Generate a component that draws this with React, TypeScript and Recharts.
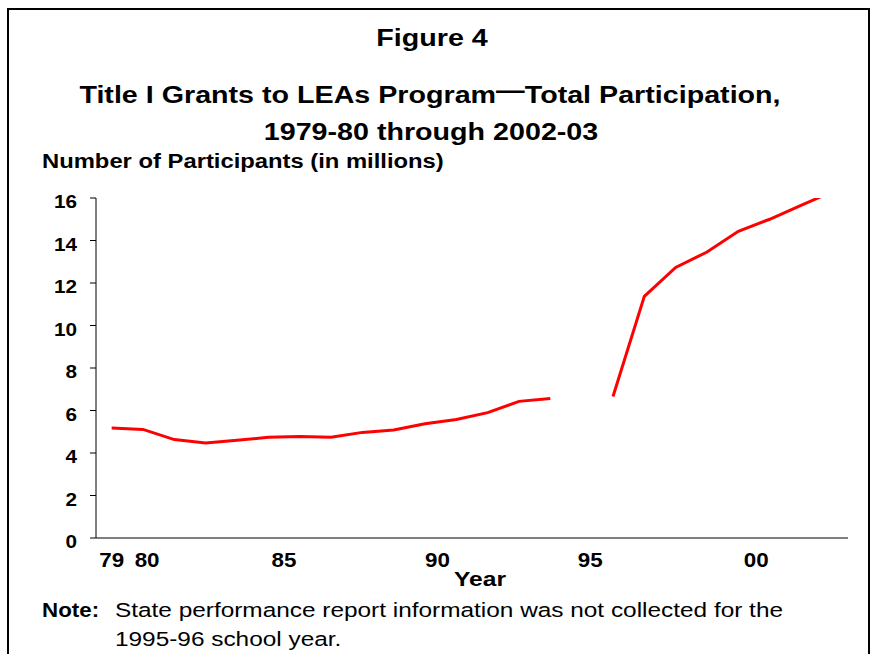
import { LineChart, Line, XAxis, YAxis } from 'recharts'

// school years on the category axis (24 slots)
const SCHOOL_YEARS = [
  '1979-80', '1980-81', '1981-82', '1982-83', '1983-84', '1984-85',
  '1985-86', '1986-87', '1987-88', '1988-89', '1989-90', '1990-91',
  '1991-92', '1992-93', '1993-94', '1994-95', '1995-96', '1996-97',
  '1997-98', '1998-99', '1999-00', '2000-01', '2001-02', '2002-03',
]

// participants in millions, null = not collected
const PARTICIPANTS = [
  5.18, 5.11, 4.63, 4.47, 4.6, 4.74, 4.78, 4.74, 4.97, 5.08, 5.38, 5.58,
  5.9, 6.43, 6.57, null, 6.66, 11.37, 12.73, 13.46, 14.43, 15.0, 15.65, 16.3,
]

// x labels sit where the original put them (in slot units)
const X_TICK_LABELS = ['79', '80', '85', '90', '95', '00']
const X_TICK_AT = [0, 1.13, 5.5, 10.4, 15.27, 20.57]

const Y_TICKS = [0, 2, 4, 6, 8, 10, 12, 14, 16]

const FONT = '"Liberation Sans", Arial, sans-serif'

const data = SCHOOL_YEARS.map((year, i) => ({
  slot: i,
  year,
  value: PARTICIPANTS[i],
}))

function XTick({ x, y, payload }: any) {
  const i = X_TICK_AT.indexOf(payload.value)
  return (
    <text
      transform={`translate(${x},${y + 29}) scale(1.12,1)`}
      textAnchor="middle"
      fontFamily={FONT}
      fontWeight="bold"
      fontSize={20}
      fill="#000"
    >
      {X_TICK_LABELS[i]}
    </text>
  )
}

function YTick({ x, y, payload }: any) {
  return (
    <text
      transform={`translate(${x},${y + 10}) scale(1.12,1)`}
      textAnchor="end"
      fontFamily={FONT}
      fontWeight="bold"
      fontSize={18.5}
      fill="#000"
    >
      {payload.value}
    </text>
  )
}

function Label({ x, y, size, sx = 1.17, bold = true, anchor = 'middle', children }: any) {
  return (
    <text
      transform={`translate(${x},${y}) scale(${sx},1)`}
      textAnchor={anchor}
      fontFamily={FONT}
      fontWeight={bold ? 'bold' : 'normal'}
      fontSize={size}
      fill="#000"
    >
      {children}
    </text>
  )
}

export default function App() {
  return (
    <div style={{ position: 'absolute', left: 0, top: 0, width: 878, height: 654, background: '#fff', overflow: 'hidden' }}>
      <LineChart
        width={878}
        height={654}
        data={data}
        margin={{ top: 198, right: 30, bottom: 86, left: 36 }}
      >
        <XAxis
          type="number"
          dataKey="slot"
          domain={[-0.5, 23.5]}
          ticks={X_TICK_AT}
          interval={0}
          height={30}
          tickLine={false}
          tickSize={0}
          tickMargin={0}
          axisLine={{ stroke: '#000', strokeWidth: 1 }}
          tick={<XTick />}
        />
        <YAxis
          domain={[0, 16]}
          ticks={Y_TICKS}
          allowDataOverflow
          interval={0}
          width={60}
          tickSize={6}
          tickMargin={13}
          tickLine={{ stroke: '#000', strokeWidth: 1 }}
          axisLine={{ stroke: '#000', strokeWidth: 1 }}
          tick={<YTick />}
        />
        <Line
          type="linear"
          dataKey="value"
          stroke="#ff0000"
          strokeWidth={3}
          dot={false}
          activeDot={false}
          connectNulls={false}
          isAnimationActive={false}
        />
      </LineChart>
      <svg
        width={878}
        height={654}
        style={{ position: 'absolute', left: 0, top: 0, pointerEvents: 'none' }}
      >
        <rect x={8} y={9} width={861} height={700} fill="none" stroke="#000" strokeWidth={2} />
        <Label x={432} y={46} size={24.5}>Figure 4</Label>
        <Label x={430} y={103} size={24.5}>
          Title I Grants to LEAs Program<tspan dy={-5.5}>—</tspan>
          <tspan dy={5.5}>Total Participation,</tspan>
        </Label>
        <Label x={431} y={140} size={24.5}>1979-80 through 2002-03</Label>
        <Label x={42} y={168} size={20} sx={1.19} anchor="start">
          Number of Participants (in millions)
        </Label>
        <Label x={480} y={586} size={20.5} sx={1.2}>Year</Label>
        <Label x={42} y={617} size={20.5} sx={1.09} anchor="start">Note:</Label>
        <Label x={115} y={617} size={20.5} sx={1.19} bold={false} anchor="start">
          State performance report information was not collected for the
        </Label>
        <Label x={115} y={646} size={20.5} sx={1.19} bold={false} anchor="start">
          1995-96 school year.
        </Label>
      </svg>
    </div>
  )
}
